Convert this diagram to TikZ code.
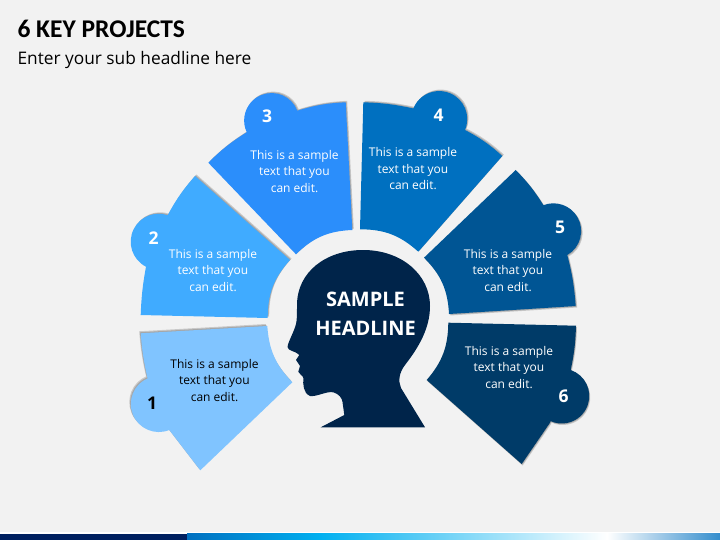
\documentclass[tikz,border=0pt]{standalone}
\usepackage{fontspec}
\setmainfont{Open Sans}
\newfontfamily\headfont{Carlito}
\definecolor{pagebg}{HTML}{F2F2F2}
\definecolor{keyone}{HTML}{80C4FF}
\definecolor{keytwo}{HTML}{40ABFF}
\definecolor{keythree}{HTML}{2B8EFB}
\definecolor{keyfour}{HTML}{0070C0}
\definecolor{keyfive}{HTML}{005594}
\definecolor{keysix}{HTML}{003B68}
\definecolor{headblue}{HTML}{00244A}
\definecolor{barblue}{HTML}{002060}
\definecolor{barsky}{HTML}{00B0F0}
\tikzset{
    bodytext/.style={font=\fontsize{12}{16.5}\selectfont, align=center},
    numtext/.style={font=\fontsize{17.5}{17.5}\selectfont\bfseries},
    softshade/.style={fill=black, opacity=0.17},
}
% shadow (two soft layers), then the shape itself
\newcommand{\keyblob}[4]{
    \fill[softshade, shift={(#2,#3)}] #4;
    \fill[softshade, shift={(#2*0.5,#3*0.5)}] #4;
    \fill[#1] #4;
}
\begin{document}
\begin{tikzpicture}[x=1pt,y=-1pt]
    \useasboundingbox (0,0) rectangle (720,540);
    \fill[pagebg] (0,0) rectangle (720,540);
    % bottom bar
    \fill[white] (0,532) rectangle (720,533.5);
    \fill[barblue] (0,533.5) rectangle (187,540);
    \fill[left color=keyfour, right color=barsky] (187,533.5) rectangle (320,540);
    \fill[left color=barsky, right color=white] (320,533.5) rectangle (607,540);
    \fill[left color=white, right color=keyfour!80] (607,533.5) rectangle (720,540);

    % six blocks
    \keyblob{keyone}{-1.5}{-2}{(140.7,333.3) -- (267.3,326) to[bend right=20] (292.3,382.3) -- (200.3,470.3) -- (169.3,430) arc[start angle=68, end angle=247, radius=28] -- (147.3,377.3) to[bend left=4] cycle}
    \keyblob{keytwo}{1.5}{-1.5}{(195,176) -- (290,260) to[bend right=21] (267.7,318) -- (140.7,315) to[bend left=4] (146,266.7) arc[start angle=117, end angle=289, radius=28] -- (168.3,214) to[bend left=6] cycle}
    \keyblob{keythree}{1.5}{-1.5}{(208.3,162.7) -- (296,254.3) to[bend left=21] (352.3,230) -- (345.7,102.3) to[bend right=7] (297.3,110.7) arc[start angle=339, end angle=155, radius=27.5] -- (246,132.7) to[bend right=6] cycle}
    \keyblob{keyfour}{1.5}{-1.5}{(363.3,102.3) -- (360,229.3) to[bend left=21] (418.3,251.7) -- (502.3,156) to[bend right=7] (465,130) arc[start angle=23, end angle=-158, radius=28] -- (412.7,108.3) to[bend right=5] cycle}
    \keyblob{keyfive}{1.5}{1.5}{(515.7,170) -- (424,257.7) to[bend left=21] (449,314) -- (575.7,306) to[bend right=5] (567.3,255) arc[start angle=60, end angle=-112, radius=27.7] -- (543.3,205) to[bend right=6] cycle}
    \keyblob{keysix}{1}{1.5}{(448.3,322.7) -- (576,325.7) to[bend left=5] (570.7,370) arc[start angle=-71, end angle=114, radius=27.5] -- (550,422.7) -- (521.7,464) -- (426.7,380) to[bend right=20] cycle}

    % head silhouette
    \fill[headblue] (320.7,427.3) -- (425,427.3) -- (401,388)
        .. controls (398,381) and (399,373) .. (405,365)
        .. controls (419,347) and (430,328) .. (430,306)
        .. controls (430,275) and (402,250) .. (363,250)
        .. controls (326,250) and (297,272) .. (297,305)
        .. controls (297,315) and (297,320) .. (296,324)
        .. controls (294,332) and (288,342) .. (287.5,347)
        .. controls (287.5,351) and (296,351) .. (299.3,355)
        -- (296,360) -- (300,366) -- (298.3,371.7)
        .. controls (299,375) and (303,375) .. (303.3,378)
        .. controls (303,384) and (303,393) .. (310,396)
        .. controls (317,397) and (326,391) .. (333.3,392.3)
        .. controls (339,394) and (342,398) .. (342.5,402)
        -- (344.3,415) -- cycle;

    % texts
    \node[anchor=west, font=\headfont\fontsize{25.5}{25.5}\selectfont\bfseries] (title) at (14,29) {6 KEY PROJECTS};
    \node[anchor=west, font=\fontsize{17.3}{17.3}\selectfont] (subtitle) at (14,60) {Enter your sub headline here};
    \node[text=white, align=center, font=\fontsize{20}{28.5}\selectfont\bfseries] (headline) at (365.5,314) {SAMPLE\\HEADLINE};
    \node[bodytext] (textone) at (214.5,380.5) {This is a sample\\text that you\\can edit.};
    \node[bodytext, text=white] (texttwo) at (213,270.5) {This is a sample\\text that you\\can edit.};
    \node[bodytext, text=white] (textthree) at (294.5,171.5) {This is a sample\\text that you\\can edit.};
    \node[bodytext, text=white] (textfour) at (413,169) {This is a sample\\text that you\\can edit.};
    \node[bodytext, text=white] (textfive) at (508,270.5) {This is a sample\\text that you\\can edit.};
    \node[bodytext, text=white] (textsix) at (509,367.5) {This is a sample\\text that you\\can edit.};
    \node[numtext] (numone) at (152,403.5) {1};
    \node[numtext, text=white] (numtwo) at (153.5,238) {2};
    \node[numtext, text=white] (numthree) at (267,116.5) {3};
    \node[numtext, text=white] (numfour) at (438.5,115) {4};
    \node[numtext, text=white] (numfive) at (560,227) {5};
    \node[numtext, text=white] (numsix) at (563.5,396.5) {6};
\end{tikzpicture}
\end{document}
